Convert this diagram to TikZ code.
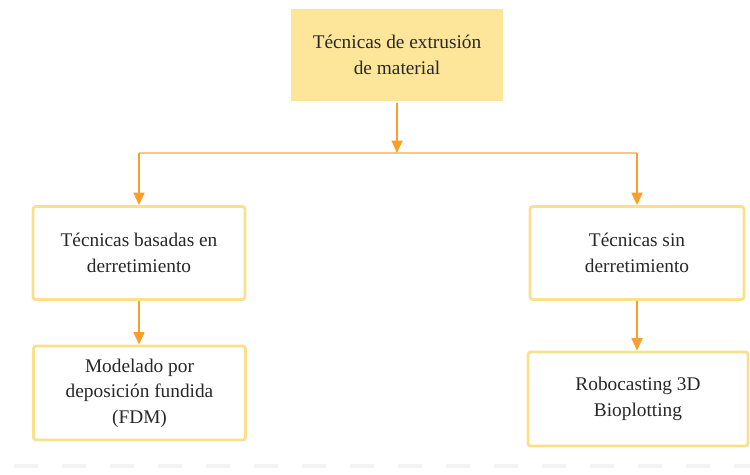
\documentclass[tikz,border=0pt]{standalone}
\usepackage{fontspec}
\setmainfont{Liberation Serif}
\usetikzlibrary{positioning,arrows.meta}
\definecolor{exfill}{RGB}{253,229,154}
\definecolor{exborder}{RGB}{251,224,140}
\definecolor{exarrow}{RGB}{249,160,44}
\definecolor{exbar}{RGB}{255,200,122}
\definecolor{extext}{RGB}{40,40,40}
\definecolor{expage}{RGB}{243,243,243}
\tikzset{
  ex/.style={font=\fontsize{11}{14.5}\selectfont, text=extext},
  exbox/.style={
    ex, draw=exborder, fill=white, line width=1.6pt, rounded corners=1.5pt,
    align=center, minimum width=4.24cm, minimum height=1.86cm, inner sep=4pt
  },
  extop/.style={exbox, draw=none, fill=exfill, rounded corners=0pt},
  exarr/.style={-{Triangle[length=2.5mm,width=2.2mm]}, line width=1pt, draw=exarrow},
  exline/.style={line width=1.5pt, draw=exbar},
}

\begin{document}
\begin{tikzpicture}[ex, x=0.02cm, y=-0.02cm]
    \useasboundingbox (0,0) rectangle (750,474);

    % Raiz
    \node[extop] (top) at (397,55) {Técnicas de extrusión\\de material};

    % Nivel 1
    \node[exbox] (fund) at (139,253) {Técnicas basadas en\\derretimiento};
    \node[exbox, minimum width=4.28cm] (nofund) at (637,253) {Técnicas sin\\derretimiento};

    % Nivel 2
    \node[exbox, minimum height=1.88cm] (fdm) at (139.5,393) {Modelado por\\deposición fundida\\(FDM)};
    \node[exbox, minimum width=4.4cm, minimum height=1.88cm] (robo) at (638,399) {Robocasting 3D\\Bioplotting};

    % Ramas
    \coordinate (bar) at (top.south |- 0,153);
    \coordinate (barl) at (fund.north |- bar);
    \coordinate (barr) at (nofund.north |- bar);

    \draw[exline] (barl) -- (barr);
    \draw[exarr] (top.south) -- (bar);
    \draw[exarr] (barl) -- (fund.north);
    \draw[exarr] (barr) -- (nofund.north);
    \draw[exarr] (fund.south) -- (fund.south |- fdm.north);
    \draw[exarr] (nofund.south) -- (nofund.south |- robo.north);

    % borde de pagina
    \draw[expage, line width=2.8pt, dash pattern=on 0.48cm off 0.48cm] (14,466) -- (750,466);
  \end{tikzpicture}
\end{document}
